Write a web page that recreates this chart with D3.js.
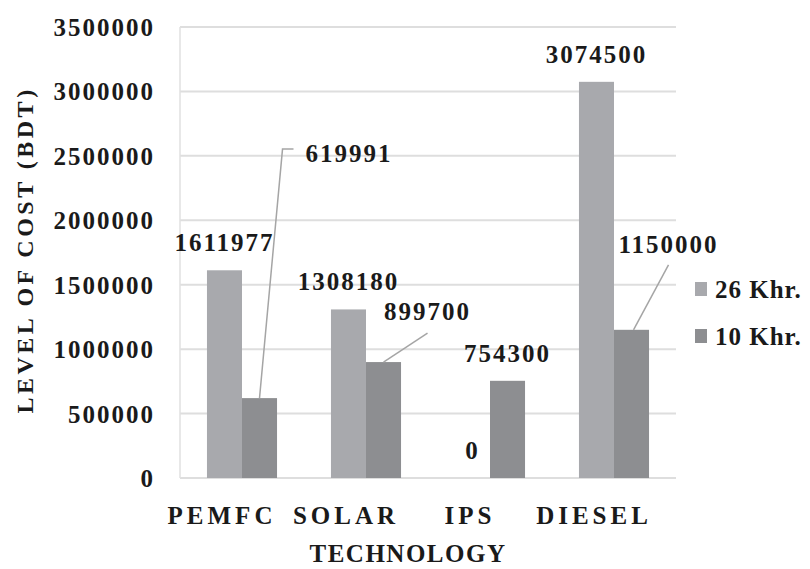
<!DOCTYPE html>
<html><head><meta charset="utf-8">
<script src="https://cdn.jsdelivr.net/npm/d3@7"></script>
<style>
html,body{margin:0;padding:0;background:#fff;}
text{font-family:"Liberation Serif","Times New Roman",serif;font-weight:bold;fill:#1a1a1a;}
</style></head>
<body><svg id="c" width="810" height="569"></svg>
<script>
// ---- data ----
const categories = ["PEMFC", "SOLAR", "IPS", "DIESEL"];
const seriesNames = ["26 Khr.", "10 Khr."];
const values26 = [1611977, 1308180, 0, 3074500];
const values10 = [619991, 899700, 754300, 1150000];
const yTicks = [0, 500000, 1000000, 1500000, 2000000, 2500000, 3000000, 3500000];

// ---- layout ----
const svg = d3.select("#c");
const plotL = 180, plotR = 676, plotT = 27, plotB = 478;
const colors = ["#a8a9ad", "#8d8e91"];
const tickFont = 25, tickSpacing = 2;

const x = d3.scaleBand().domain(categories).range([plotL, plotR]).paddingInner(0.435).paddingOuter(0.2175);
const x1 = d3.scaleBand().domain(seriesNames).range([0, x.bandwidth()]);
const y = d3.scaleLinear().domain([0, 3500000]).range([plotB, plotT]);

// gridlines
svg.append("g").selectAll("line").data(yTicks).join("line")
  .attr("x1", plotL).attr("x2", plotR)
  .attr("y1", d => y(d)).attr("y2", d => y(d))
  .attr("stroke", "#dedede").attr("stroke-width", 2);
// vertical axis line
svg.append("line").attr("x1", plotL).attr("x2", plotL).attr("y1", plotT).attr("y2", plotB)
  .attr("stroke", "#e0e0e0").attr("stroke-width", 1.5);

// y axis via d3.axisLeft, restyled
const yAxis = svg.append("g").attr("transform", `translate(${plotL},0)`)
  .call(d3.axisLeft(y).tickValues(yTicks).tickFormat(d3.format("d")).tickSize(0).tickPadding(plotL - 155));
yAxis.select(".domain").remove();
yAxis.selectAll("text").attr("font-size", tickFont).attr("letter-spacing", tickSpacing)
  .style("font-family", '"Liberation Serif",serif').style("font-weight", "bold").attr("fill", "#1a1a1a")
  .attr("dy", "0.34em");

// bars
const rows = categories.map((c, i) => ({cat: c, vals: [values26[i], values10[i]]}));
const groups = svg.append("g").selectAll("g").data(rows).join("g")
  .attr("transform", d => `translate(${x(d.cat)},0)`);
groups.selectAll("rect").data(d => d.vals.map((v, j) => ({v, s: seriesNames[j], j})))
  .join("rect")
  .attr("x", d => x1(d.s)).attr("width", x1.bandwidth())
  .attr("y", d => y(d.v)).attr("height", d => y(0) - y(d.v))
  .attr("fill", d => colors[d.j]);

// x axis labels
svg.append("g").selectAll("text").data(categories).join("text")
  .attr("x", d => x(d) + x.bandwidth() / 2 - 20).attr("y", 524)
  .attr("text-anchor", "middle").attr("font-size", 25).attr("letter-spacing", 4)
  .text(d => d);

// axis titles
svg.append("text").attr("x", 408).attr("y", 562).attr("text-anchor", "middle")
  .attr("font-size", 25).attr("letter-spacing", 1.5).text("TECHNOLOGY");
svg.append("text").attr("transform", "translate(33,250) rotate(-90)").attr("text-anchor", "middle")
  .attr("font-size", 24).attr("letter-spacing", 3.5).text("LEVEL OF COST (BDT)");

// data labels
const cx = (cat, j) => x(cat) + x1(seriesNames[j]) + x1.bandwidth() / 2;
// 26 Khr labels centred above bars
svg.append("g").selectAll("text").data(categories).join("text")
  .attr("x", (d, i) => cx(d, 0)).attr("y", (d, i) => y(values26[i]) - 19)
  .attr("text-anchor", "middle").attr("font-size", tickFont).attr("letter-spacing", tickSpacing)
  .text((d, i) => values26[i]);

// 10 Khr labels: leader offsets (pixels from bar-top centre)
const leaders = [
  {pts: [[0, 0], [23, -249], [34, -249]], lx: 46, ly: -244, anchor: "start"},
  {pts: [[0, 0], [44, -29]], lx: 44, ly: -50, anchor: "middle"},
  null,
  {pts: [[2, 0], [37, -65]], lx: 37, ly: -85, anchor: "middle"}
];
categories.forEach((c, i) => {
  const bx = cx(c, 1), by = y(values10[i]);
  const L = leaders[i];
  if (L) {
    svg.append("path")
      .attr("d", d3.line()(L.pts.map(p => [bx + p[0], by + p[1]])))
      .attr("fill", "none").attr("stroke", "#a5a5a5").attr("stroke-width", 1.5);
    svg.append("text").attr("x", bx + L.lx).attr("y", by + L.ly + 8)
      .attr("text-anchor", L.anchor).attr("font-size", tickFont).attr("letter-spacing", tickSpacing)
      .text(values10[i]);
  } else {
    svg.append("text").attr("x", bx).attr("y", by - 19)
      .attr("text-anchor", "middle").attr("font-size", tickFont).attr("letter-spacing", tickSpacing)
      .text(values10[i]);
  }
});

// legend
const leg = svg.append("g").selectAll("g").data(seriesNames).join("g")
  .attr("transform", (d, i) => `translate(695,${282 + i * 47})`);
leg.append("rect").attr("width", 12).attr("height", 14).attr("fill", (d, i) => colors[i]);
leg.append("text").attr("x", 20).attr("y", 16).attr("font-size", 25).attr("letter-spacing", 1).text(d => d);
</script></body></html>
